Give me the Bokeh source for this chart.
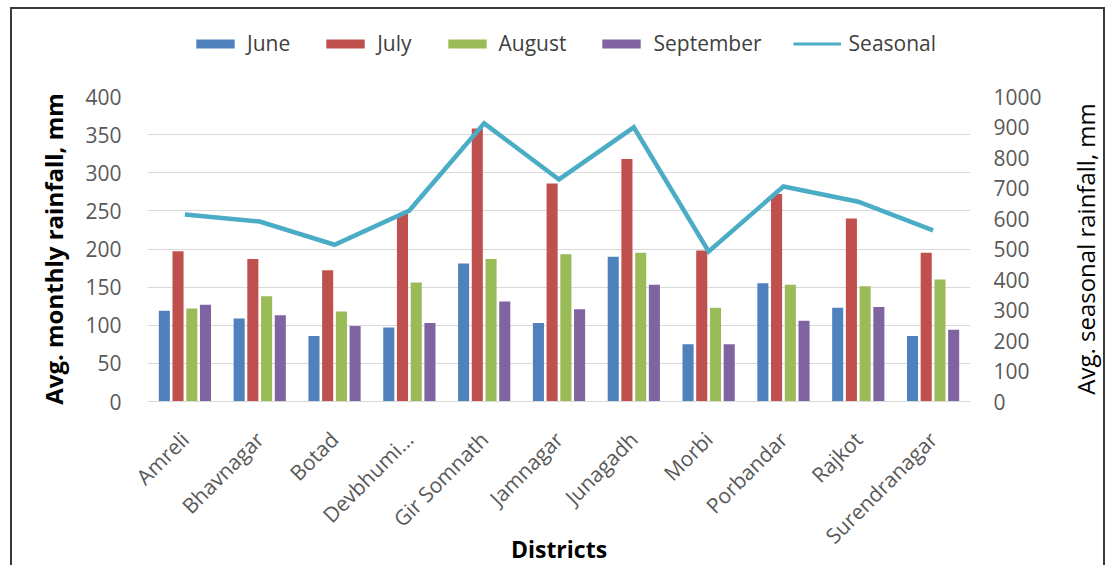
import numpy as np
from bokeh.plotting import figure
from bokeh.layouts import column, row
from bokeh.models import (ColumnDataSource, FactorRange, Range1d, LinearAxis, FixedTicker,
                          Legend, LegendItem)
from bokeh.transform import dodge
from bokeh.embed import file_html
from bokeh.resources import INLINE

districts = ["Amreli", "Bhavnagar", "Botad", "Devbhumi...", "Gir Somnath", "Jamnagar",
             "Junagadh", "Morbi", "Porbandar", "Rajkot", "Surendranagar"]
june = [119, 109, 86, 97, 181, 103, 190, 75, 155, 123, 86]
july = [197, 187, 172, 246, 358, 286, 318, 198, 272, 240, 195]
august = [122, 138, 118, 156, 187, 193, 195, 123, 153, 151, 160]
september = [127, 113, 99, 103, 131, 121, 153, 75, 106, 124, 94]
seasonal = [613, 590, 514, 626, 912, 728, 899, 492, 705, 655, 561]
left_ticks = [0, 50, 100, 150, 200, 250, 300, 350, 400]
right_ticks = [0, 100, 200, 300, 400, 500, 600, 700, 800, 900, 1000]

src = ColumnDataSource(dict(district=districts, june=june, july=july, august=august,
                            september=september, seasonal=seasonal))

FONT = "Open Sans"
colors = ["#4F81BD", "#C0504D", "#9BBB59", "#8064A2"]
line_color = "#4BACC6"
fields = ["june", "july", "august", "september"]
names = ["June", "July", "August", "September"]
offsets = [-0.275, -0.092, 0.092, 0.275]

p = figure(x_range=FactorRange(*districts, range_padding=0), y_range=Range1d(0, 400),
           frame_width=823, frame_height=305, output_backend="svg", toolbar_location=None,
           min_border_left=135, min_border_right=75, min_border_top=27, min_border_bottom=162)
p.outline_line_color = None
p.extra_y_ranges = {"right": Range1d(0, 1000)}

for f, c, o in zip(fields, colors, offsets):
    p.vbar(x=dodge("district", o, range=p.x_range), top=f, width=0.148, source=src,
           fill_color=c, line_color=None)
p.line(x="district", y="seasonal", source=src, y_range_name="right",
       line_color=line_color, line_width=4.5, line_join="miter")

# left axis
ya = p.yaxis[0]
ya.ticker = FixedTicker(ticks=left_ticks)
ya.axis_line_color = None
ya.major_tick_line_color = None
ya.minor_tick_line_color = None
ya.major_label_text_font = FONT
ya.major_label_text_font_size = "21px"
ya.major_label_text_color = "#595959"
ya.major_label_standoff = 20
ya.axis_label = "Avg. monthly rainfall, mm"
ya.axis_label_text_font = FONT
ya.axis_label_text_font_size = "24px"
ya.axis_label_text_font_style = "bold"
ya.axis_label_text_color = "#000000"
ya.axis_label_standoff = 12

# right axis (ticks only)
ra = LinearAxis(y_range_name="right", ticker=FixedTicker(ticks=right_ticks))
ra.axis_line_color = None
ra.major_tick_line_color = None
ra.minor_tick_line_color = None
ra.major_label_text_font = FONT
ra.major_label_text_font_size = "21px"
ra.major_label_text_color = "#595959"
ra.major_label_standoff = 17
p.add_layout(ra, "right")

# x axis
xa = p.xaxis[0]
xa.axis_line_color = "#D9D9D9"
xa.major_tick_line_color = None
xa.minor_tick_line_color = None
xa.major_label_orientation = np.pi / 4
xa.major_label_text_font = FONT
xa.major_label_text_font_size = "21px"
xa.major_label_text_color = "#595959"
xa.major_label_standoff = 28
xa.axis_label = "Districts"
xa.axis_label_text_font = FONT
xa.axis_label_text_font_size = "23px"
xa.axis_label_text_font_style = "bold"
xa.axis_label_text_color = "#000000"
xa.axis_label_standoff = -29

p.xgrid.grid_line_color = None
p.ygrid.grid_line_color = "#D9D9D9"
p.ygrid.ticker = FixedTicker(ticks=left_ticks)

# narrow strip carrying the right-hand axis title (reads bottom to top)
tf = figure(frame_width=1, frame_height=305, output_backend="svg", toolbar_location=None,
            x_range=Range1d(0, 1), y_range=Range1d(0, 1000), x_axis_type=None,
            min_border_left=57, min_border_right=0, min_border_top=27, min_border_bottom=162)
tf.outline_line_color = None
tf.grid.visible = False
ta = tf.yaxis[0]
ta.ticker = FixedTicker(ticks=[])
ta.axis_line_color = None
ta.major_tick_line_color = None
ta.minor_tick_line_color = None
ta.major_tick_out = 0
ta.major_label_standoff = 0
ta.axis_label = "Avg. seasonal rainfall, mm"
ta.axis_label_text_font = FONT
ta.axis_label_text_font_size = "24px"
ta.axis_label_text_font_style = "normal"
ta.axis_label_text_color = "#000000"
ta.axis_label_standoff = 1

# legend strip above the chart
lg = figure(frame_width=823, frame_height=60, output_backend="svg", toolbar_location=None,
            x_range=Range1d(0, 1), y_range=Range1d(0, 1), x_axis_type=None, y_axis_type=None,
            min_border_left=135, min_border_right=133, min_border_top=0, min_border_bottom=0)
lg.outline_line_color = None
lg.grid.visible = False
items = []
for c, n in zip(colors, names):
    r = lg.vbar(x=[np.nan], bottom=[np.nan], top=[np.nan], width=0.1, fill_color=c,
                line_color=None)
    items.append(LegendItem(label=n, renderers=[r]))
r = lg.line(x=[np.nan, np.nan], y=[np.nan, np.nan], line_color=line_color, line_width=3)
items.append(LegendItem(label="Seasonal", renderers=[r]))
legend = Legend(items=items, orientation="horizontal", location=(44, 12),
                glyph_width=48, glyph_height=11, label_standoff=8, spacing=31,
                label_text_font=FONT, label_text_font_size="21px", label_text_color="#404040",
                border_line_color=None, background_fill_alpha=0, padding=0, margin=0)
lg.add_layout(legend, "center")

layout = column(lg, row(p, tf, spacing=0), spacing=0, margin=(7, 0, 0, 10))
layout.styles = {"border-left": "2px solid #3a3a3a", "border-top": "2px solid #3a3a3a",
                 "border-right": "2px solid #3a3a3a"}

open("out.html", "w").write(file_html(layout, INLINE))
